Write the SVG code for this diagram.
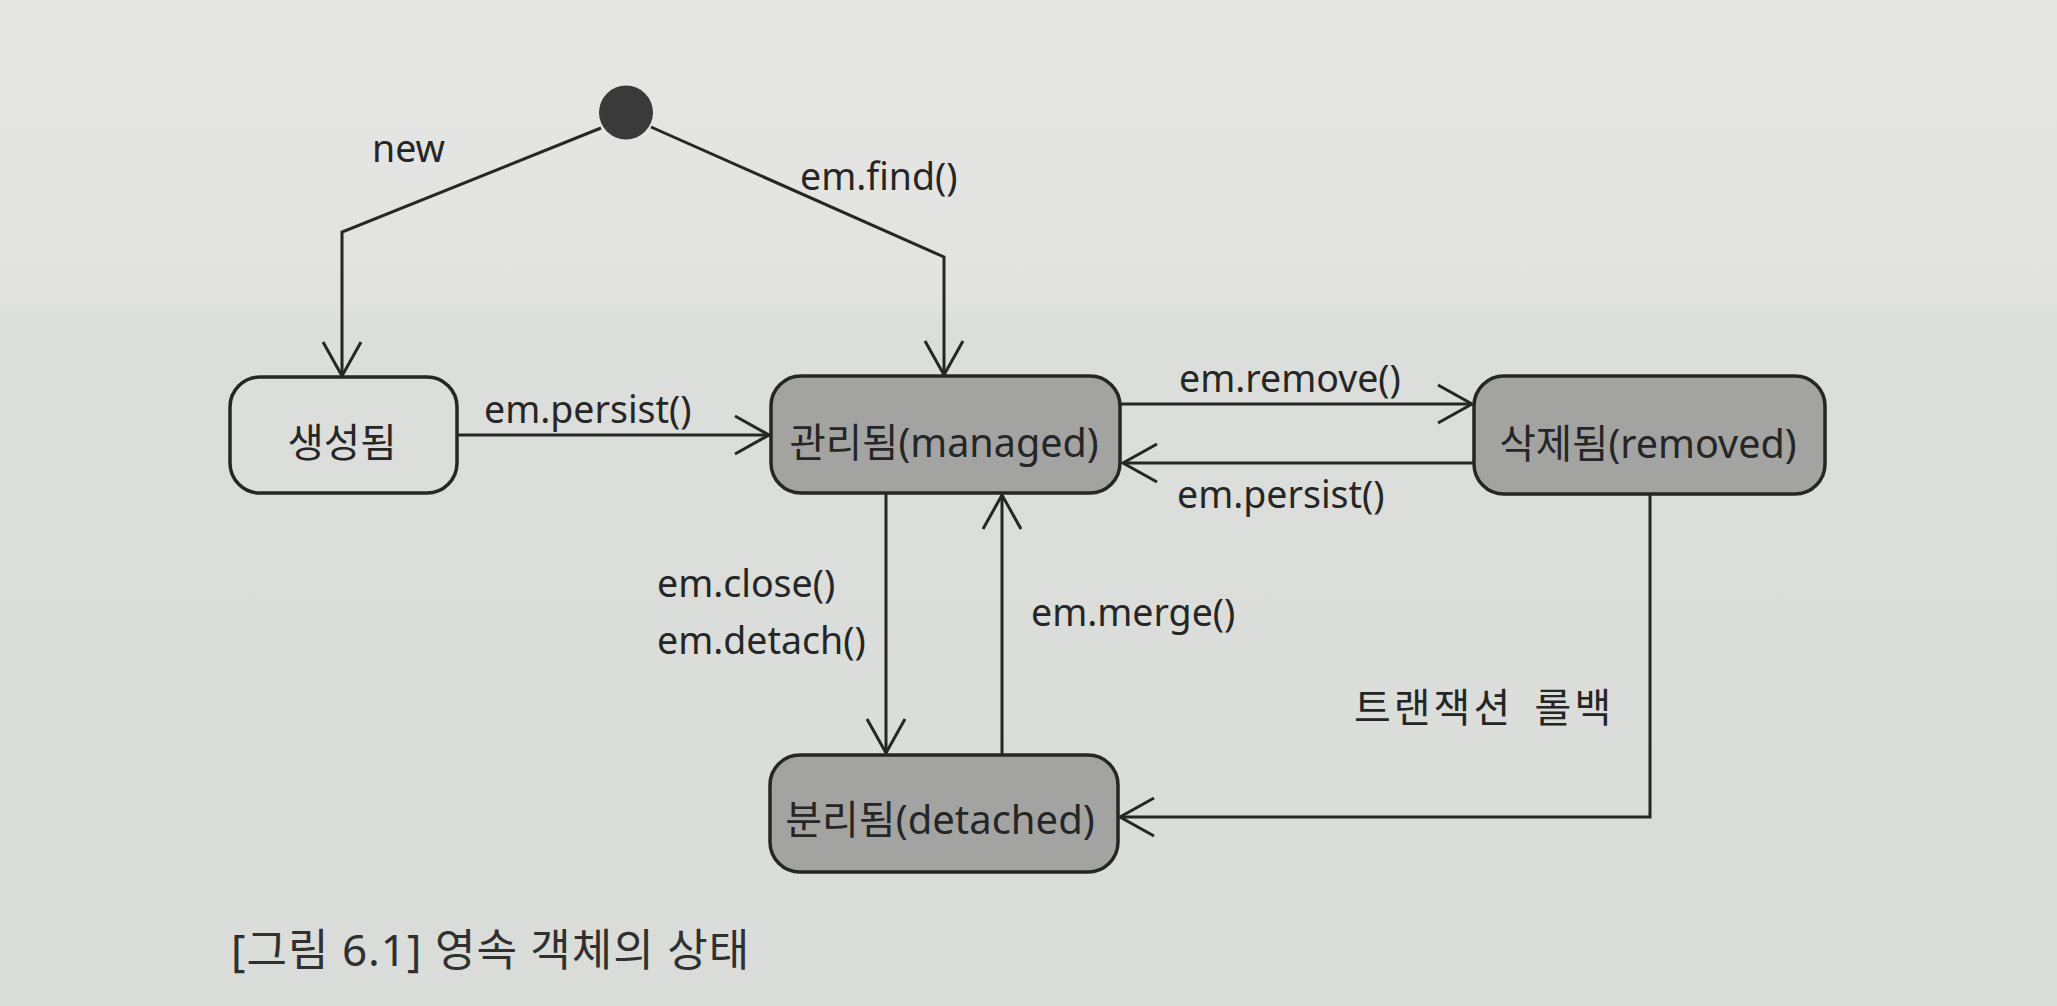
<svg xmlns="http://www.w3.org/2000/svg" width="2057" height="1006" viewBox="0 0 2057 1006">
<defs>
<linearGradient id="bg" x1="0" y1="0" x2="0" y2="1">
<stop offset="0" stop-color="#e6e7e4"/>
<stop offset="0.3" stop-color="#e2e3e0"/>
<stop offset="0.32" stop-color="#dcdedb"/>
<stop offset="1" stop-color="#d9dcd8"/>
</linearGradient>
<marker id="open" viewBox="-3 -3 42 44" markerWidth="42" markerHeight="44" refX="34" refY="19" orient="auto" markerUnits="userSpaceOnUse">
<path d="M0,0 L34,19 L0,38" fill="none" stroke="#262626" stroke-width="3"/>
</marker>
</defs>
<style>
.node{stroke:#262626;stroke-width:3.5}
.plain{fill:none}
.gray{fill:#a3a4a2}
.nl{font-family:"Noto Sans","Noto Sans CJK KR",sans-serif;font-size:39.5px;fill:#262626;text-anchor:middle}
.el{font-family:"Noto Sans","Noto Sans CJK KR",sans-serif;font-size:37.5px;fill:#262626}
.kl{font-family:"Noto Sans","Noto Sans CJK KR",sans-serif;font-size:40px;fill:#262626;letter-spacing:3px;word-spacing:8px}
.cap{font-family:"Noto Sans","Noto Sans CJK KR",sans-serif;font-size:44px;fill:#303030;letter-spacing:1px}
.conn path{fill:none;stroke:#262626;stroke-width:3;marker-end:url(#open)}
</style>
<rect x="0" y="0" width="2057" height="1006" fill="url(#bg)"/>

<g id="initial">
<circle cx="626" cy="112.5" r="27" fill="#3a3a3a"/>
</g>

<g id="connectors" class="conn">
<path d="M601,128 L342,232 L342,376"/>
<path d="M651,127 L944,257 L944,375"/>
<path d="M457,435 L769,435"/>
<path d="M1121,404 L1472,404"/>
<path d="M1474,463 L1123,463"/>
<path d="M1650,494 L1650,817 L1120,817"/>
<path d="M886,493 L886,753"/>
<path d="M1002,755 L1002,495"/>
</g>

<g id="edge-labels">
<text class="el" x="372" y="162">new</text>
<text class="el" x="800" y="190">em.find()</text>
<text class="el" x="484" y="423">em.persist()</text>
<text class="el" x="1179" y="392">em.remove()</text>
<text class="el" x="1177" y="508">em.persist()</text>
<text class="el" x="657" y="597">em.close()</text>
<text class="el" x="657" y="654">em.detach()</text>
<text class="el" x="1031" y="626">em.merge()</text>
<text class="kl" x="1354" y="722">트랜잭션 롤백</text>
</g>

<g id="node-created">
<rect class="node plain" x="230" y="377" width="227" height="116" rx="30" ry="30"/>
<text class="nl" x="342" y="457">생성됨</text>
</g>

<g id="node-managed">
<rect class="node gray" x="771" y="376" width="349" height="117" rx="30" ry="30"/>
<text class="nl" x="944" y="457">관리됨(managed)</text>
</g>

<g id="node-removed">
<rect class="node gray" x="1474" y="376" width="351" height="118" rx="30" ry="30"/>
<text class="nl" x="1648" y="458">삭제됨(removed)</text>
</g>

<g id="node-detached">
<rect class="node gray" x="770" y="755" width="348" height="117" rx="30" ry="30"/>
<text class="nl" x="940" y="834" style="font-size:40px">분리됨(detached)</text>
</g>

<g id="caption">
<text class="cap" x="231" y="966">[그림 6.1] 영속 객체의 상태</text>
</g>
</svg>
